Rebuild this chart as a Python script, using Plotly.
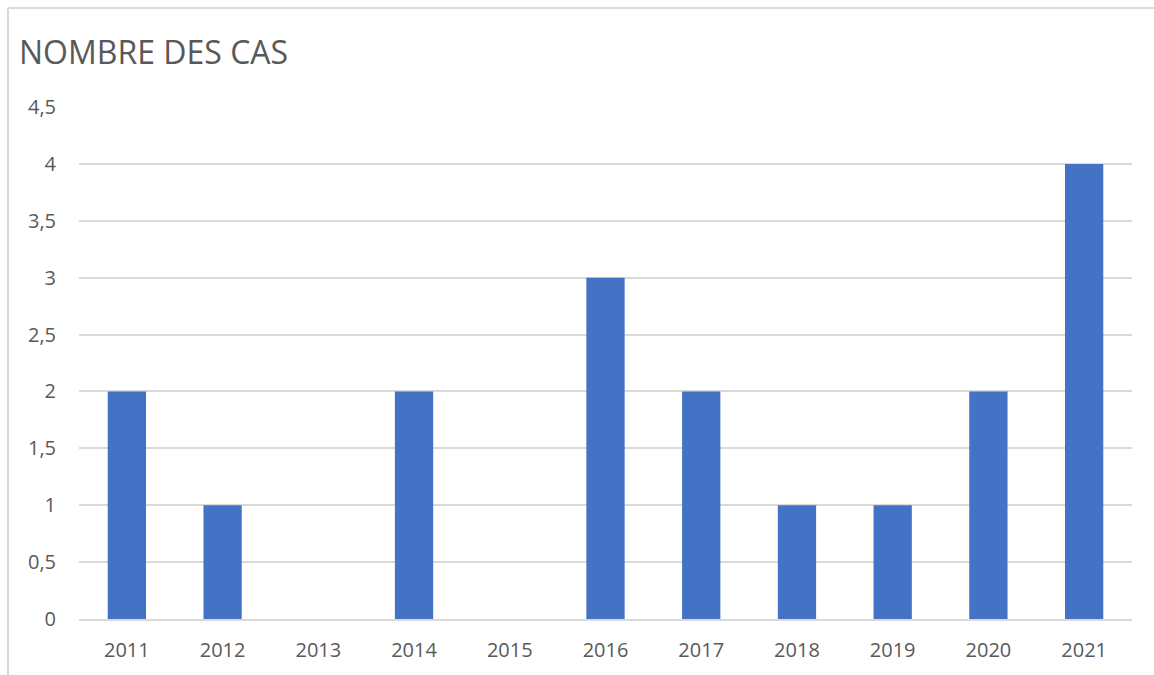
import plotly.graph_objects as go

years = ["2011", "2012", "2013", "2014", "2015", "2016", "2017", "2018", "2019", "2020", "2021"]
cases = [2, 1, 0, 2, 0, 3, 2, 1, 1, 2, 4]
y_ticks = [0, 0.5, 1, 1.5, 2, 2.5, 3, 3.5, 4, 4.5]
y_tick_labels = ["0", "0,5", "1", "1,5", "2", "2,5", "3", "3,5", "4", "4,5"]

W, H = 1154, 675
ml, mr, mt, mb = 79, 22, 107, 56
pw, ph = W - ml - mr, H - mt - mb

def px_x(p):
    return (p - ml) / pw

def px_y(p):
    return (H - mb - p) / ph

text_color = "#595959"
grid_color = "#d9d9d9"

fig = go.Figure(
    go.Bar(
        x=years,
        y=cases,
        marker=dict(color="#4472C4", line=dict(width=0)),
    )
)

fig.update_layout(
    width=W,
    height=H,
    margin=dict(l=ml, r=mr, t=mt, b=mb),
    paper_bgcolor="white",
    plot_bgcolor="white",
    bargap=0.6,
    showlegend=False,
    font=dict(family="Open Sans", color=text_color, size=20),
    title=dict(
        text="NOMBRE DES CAS",
        x=19 / W,
        xanchor="left",
        xref="container",
        y=1 - 53 / H,
        yanchor="middle",
        yref="container",
        font=dict(family="Open Sans", size=32, color=text_color),
    ),
    xaxis=dict(
        showgrid=False,
        showline=True,
        linecolor=grid_color,
        linewidth=2,
        ticks="",
        ticklabelstandoff=12,
        tickfont=dict(size=20, color=text_color),
    ),
    yaxis=dict(
        range=[0, 4.5],
        tickvals=y_ticks,
        ticktext=y_tick_labels,
        showgrid=True,
        gridcolor=grid_color,
        gridwidth=1.6,
        zeroline=False,
        showline=False,
        ticks="",
        ticklabelstandoff=22,
        tickfont=dict(size=20, color=text_color),
    ),
    shapes=[
        dict(type="line", xref="paper", yref="paper",
             x0=px_x(8), x1=px_x(W), y0=px_y(8), y1=px_y(8),
             line=dict(color=grid_color, width=2)),
        dict(type="line", xref="paper", yref="paper",
             x0=px_x(8), x1=px_x(8), y0=px_y(8), y1=px_y(H),
             line=dict(color=grid_color, width=2)),
    ],
)

fig.write_html("out.html")
